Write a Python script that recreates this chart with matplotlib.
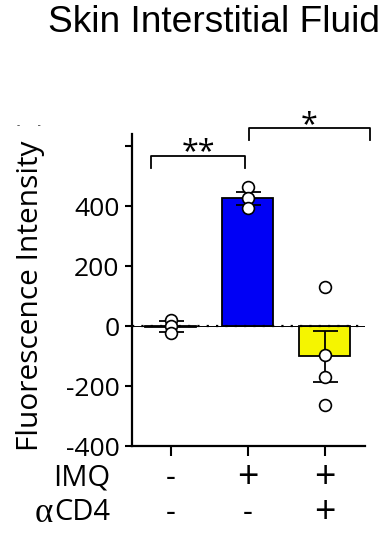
import matplotlib
matplotlib.use("Agg")
import matplotlib.pyplot as plt
import matplotlib.transforms as mtransforms
import numpy as np

# Groups and treatment table
groups = ["ctrl", "IMQ", "IMQ+aCD4"]
imq_row = ["-", "+", "+"]
cd4_row = ["-", "-", "+"]
row_labels = ["IMQ", "CD4"]
row_prefix = ["", "\u03b1"]

# Group means and SEM
means = [-2, 426, -101]
sems = [18, 22, 85]

# Individual animals
points = [
    [20, 0, -24],
    [462, 427, 392],
    [131, -97, -169, -263],
]

bar_colors = ["#ffffff", "#0000f5", "#f5f500"]

yticks = [-400, -200, 0, 200, 400, 600]
ytick_labels = ["-400", "-200", "0", "200", "400", ""]

FONT = "Open Sans"
W, H = 385, 549

fig = plt.figure(figsize=(W / 100, H / 100), dpi=100)
ax = fig.add_axes([132 / W, 1 - 446 / H, 233 / W, 312 / H])

x = np.arange(len(groups))
ax.bar(x, means, width=0.66, color=bar_colors, edgecolor="black",
       linewidth=1.3, zorder=2)

# zero reference line
ax.axhline(0, color="black", lw=0.7, zorder=3)
ax.axhline(0, color="black", lw=1.6, ls=(0, (1, 3.2)), zorder=3)

ax.errorbar(x, means, yerr=sems, fmt="none", ecolor="black", elinewidth=1.3,
            capsize=9, capthick=1.3, zorder=4)

for xi, pts in zip(x, points):
    ax.plot([xi] * len(pts), pts, "o", ms=8.5, mfc="white", mec="black",
            mew=1.2, zorder=5, clip_on=False)

ax.set_xlim(-0.5, 2.52)
ax.set_ylim(-400, 640)
ax.spines[["top", "right"]].set_visible(False)
ax.spines[["left", "bottom"]].set_linewidth(1.6)
ax.set_yticks(yticks)
ax.set_yticklabels(ytick_labels, fontname=FONT, fontsize=19)
ax.set_xticks(x)
ax.set_xticklabels([])
ax.tick_params(axis="y", length=5, width=1.5, pad=4)
ax.tick_params(axis="x", length=7, width=1.5)

fig.text(31 / W, 1 - 296 / H, "Fluorescence Intensity", rotation=90,
         ha="center", va="center", fontname=FONT, fontsize=21.5)

# treatment table below the axis
mix = mtransforms.blended_transform_factory(ax.transData, fig.transFigure)
for row, yrow in ((imq_row, 478), (cd4_row, 513)):
    yy = 1 - yrow / H
    for xi, s in zip(x, row):
        ax.text(xi, yy, s, transform=mix, ha="center", va="center",
                fontname=FONT, fontsize=27 if s == "+" else 22)

renderer = fig.canvas.get_renderer()
for lab, pre, yrow in zip(row_labels, row_prefix, (478, 513)):
    t = fig.text(110 / W, 1 - yrow / H, lab, ha="right", va="center",
                 fontname=FONT, fontsize=21)
    if pre:
        bb = t.get_window_extent(renderer)
        fig.text(bb.x0 / W - 0.002, 1 - yrow / H, pre, ha="right",
                 va="center", fontname="Liberation Serif", fontsize=25)

# significance brackets
def bracket(x0, x1, y, h, label, ylab):
    ax.plot([x0, x0, x1, x1], [y - h, y, y, y - h], color="black", lw=1.3,
            clip_on=False)
    ax.text((x0 + x1) / 2, ylab, label, ha="center", va="center",
            fontname=FONT, fontsize=22, clip_on=False)

bracket(-0.26, 0.97, 567, 40, "**", 580)
bracket(1.02, 2.58, 659, 40, "*", 670)

fig.text(214 / W, 1 - 32 / H, "Skin Interstitial Fluid", ha="center",
         va="baseline", fontname="Liberation Sans", fontsize=26.7)

# small marks at the upper left margin
fig.text(29 / W, 1 - 126 / H, "-       -", ha="center", va="center",
         fontname=FONT, fontsize=7, color="#333333")

fig.savefig("out.png", dpi=100)
